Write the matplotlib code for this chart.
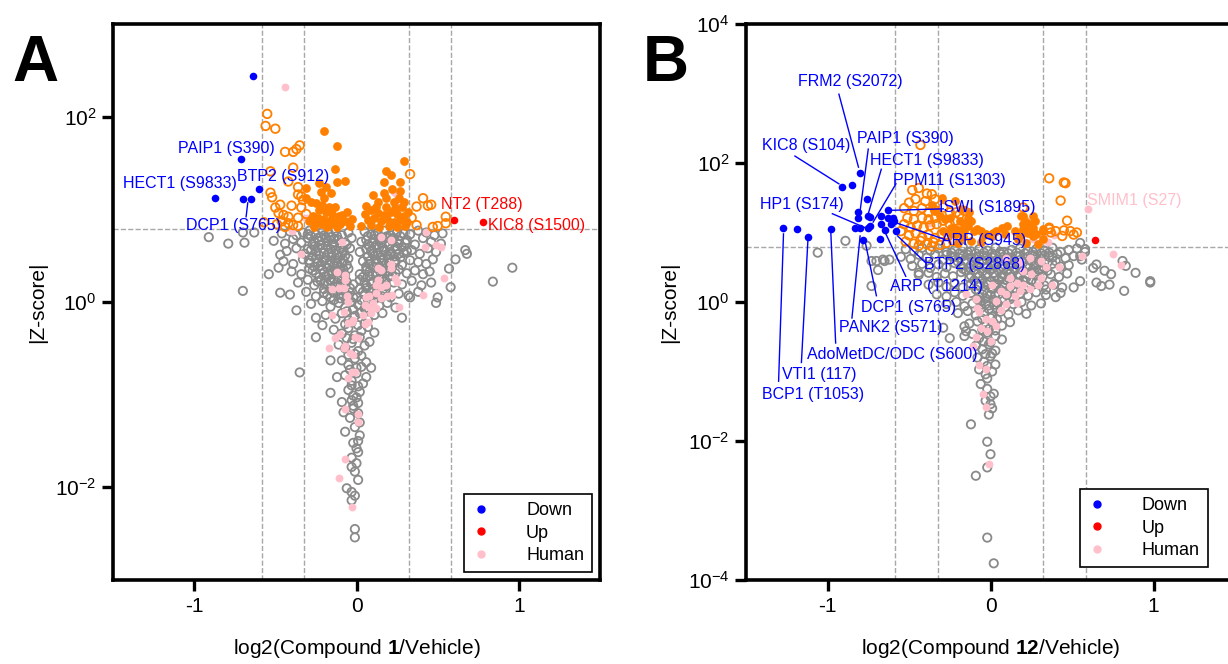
import numpy as np
import matplotlib
matplotlib.use('Agg')
import matplotlib.pyplot as plt
from matplotlib.lines import Line2D
from matplotlib.ticker import NullLocator

plt.rcParams['font.family'] = ['Liberation Sans', 'DejaVu Sans']
plt.rcParams['mathtext.fontset'] = 'custom'
plt.rcParams['mathtext.rm'] = 'Liberation Sans'
plt.rcParams['mathtext.bf'] = 'Liberation Sans:bold'
plt.rcParams['mathtext.it'] = 'Liberation Sans:italic'
plt.rcParams['axes.unicode_minus'] = False

# thresholds
z_cut = 6.2
fc_cuts = [0.322, 0.585]

# ---------------- Panel A (Compound 1) : (log2 FC, log10 |Z|) ----------------
a_gray = [
    (-0.91, 0.70), (-0.79, 0.63), (-0.69, 0.64), (-0.70, 0.75), (-0.63, 0.75), (-0.70, 0.12),
    (-0.54, 0.30), (-0.47, 0.51), (-0.47, 0.10), (-0.48, 0.37), (-0.37, -0.09), (-0.35, -0.76),
    (-0.25, -0.17), (-0.25, -0.38), (-0.21, -0.25), (-0.16, -0.63), (-0.16, -0.98), (-0.12, -0.81),
    (0.09, -0.71), (0.06, -0.81), (0.28, -0.17), (0.33, 0.05), (0.49, -0.01), (0.50, 0.05),
    (0.58, 0.16), (0.57, 0.36), (0.61, 0.46), (0.67, 0.56), (0.68, 0.52), (0.84, 0.22), (0.96, 0.37),
    (-0.09, -1.08), (-0.08, -1.19), (-0.07, -1.40), (-0.03, -1.06), (0.00, -1.03), (0.01, -1.09),
    (0.02, -1.44), (0.00, -1.58), (0.01, -1.62), (-0.03, -1.68), (0.00, -1.74), (-0.03, -1.78),
    (-0.01, -1.83), (0.01, -1.92), (-0.06, -2.01), (-0.03, -2.05), (-0.01, -2.09), (-0.03, -2.14),
    (-0.01, -2.45), (-0.01, -2.54), (-0.02, -1.52), (-0.04, -1.25), (0.02, -1.30), (-0.01, -1.35),
    (0.01, -1.50), (-0.02, -1.15),
    (-0.46, 0.74), (-0.41, 0.76), (-0.37, 0.72), (-0.33, 0.75), (-0.29, 0.77), (-0.25, 0.73),
    (-0.21, 0.76), (-0.17, 0.74), (-0.13, 0.77), (-0.09, 0.72), (-0.05, 0.75), (0.05, 0.76),
    (0.09, 0.73), (0.13, 0.75), (0.17, 0.77), (0.21, 0.72), (0.25, 0.76), (0.29, 0.74),
    (0.33, 0.73), (0.38, 0.77), (0.43, 0.75), (0.48, 0.72), (0.53, 0.74),
    (-0.51, 0.66), (-0.44, 0.63), (-0.39, 0.68), (-0.34, 0.64), (-0.30, 0.69), (-0.27, 0.62),
    (-0.23, 0.66), (-0.19, 0.70), (-0.15, 0.63), (-0.11, 0.67), (-0.07, 0.64), (-0.03, 0.69),
    (0.03, 0.65), (0.07, 0.62), (0.11, 0.68), (0.15, 0.64), (0.18, 0.70), (0.22, 0.66),
    (0.26, 0.63), (0.31, 0.67), (0.36, 0.62), (0.41, 0.69), (0.46, 0.65), (0.52, 0.63),
    (-0.43, 0.55), (-0.37, 0.58), (-0.32, 0.52), (-0.28, 0.56), (-0.24, 0.59), (-0.20, 0.53),
    (-0.16, 0.57), (-0.12, 0.51), (-0.08, 0.56), (-0.04, 0.58), (0.02, 0.54), (0.06, 0.57),
    (0.10, 0.52), (0.14, 0.59), (0.17, 0.55), (0.21, 0.51), (0.25, 0.57), (0.29, 0.53),
    (0.34, 0.56), (0.39, 0.52), (0.44, 0.58), (0.49, 0.54),
    (-0.45, 0.44), (-0.39, 0.41), (-0.33, 0.46), (-0.29, 0.42), (-0.25, 0.47), (-0.21, 0.43),
    (-0.17, 0.40), (-0.13, 0.45), (-0.09, 0.42), (-0.05, 0.47), (0.04, 0.44), (0.08, 0.41),
    (0.12, 0.46), (0.16, 0.42), (0.20, 0.47), (0.24, 0.43), (0.28, 0.40), (0.33, 0.45),
    (0.38, 0.43), (0.43, 0.41), (0.47, 0.46),
    (-0.40, 0.33), (-0.34, 0.30), (-0.29, 0.36), (-0.25, 0.31), (-0.21, 0.35), (-0.17, 0.29),
    (-0.13, 0.34), (-0.09, 0.31), (-0.05, 0.36), (0.02, 0.30), (0.06, 0.34), (0.10, 0.29),
    (0.14, 0.36), (0.18, 0.32), (0.22, 0.28), (0.26, 0.35), (0.31, 0.31), (0.36, 0.34),
    (0.41, 0.30), (0.45, 0.33),
    (-0.36, 0.21), (-0.30, 0.24), (-0.26, 0.18), (-0.22, 0.23), (-0.18, 0.19), (-0.14, 0.25),
    (-0.10, 0.17), (-0.06, 0.22), (-0.02, 0.19), (0.02, 0.24), (0.06, 0.18), (0.10, 0.22),
    (0.14, 0.25), (0.18, 0.17), (0.23, 0.21), (0.28, 0.19), (0.34, 0.23), (0.40, 0.18), (0.46, 0.21),
    (-0.41, 0.08), (-0.31, 0.11), (-0.25, 0.06), (-0.20, 0.10), (-0.16, 0.05), (-0.12, 0.12),
    (-0.08, 0.07), (-0.04, 0.10), (0.00, 0.05), (0.04, 0.11), (0.08, 0.06), (0.12, 0.09),
    (0.16, 0.12), (0.21, 0.05), (0.26, 0.09), (0.32, 0.07), (0.38, 0.11),
    (-0.28, -0.02), (-0.21, 0.01), (-0.16, -0.05), (-0.11, -0.01), (-0.07, -0.06), (-0.03, 0.00),
    (0.01, -0.03), (0.05, -0.07), (0.09, 0.00), (0.14, -0.04), (0.19, -0.01), (0.24, -0.06),
    (-0.19, -0.14), (-0.13, -0.18), (-0.09, -0.12), (-0.05, -0.20), (-0.01, -0.15), (0.03, -0.11),
    (0.07, -0.19), (0.11, -0.14), (0.16, -0.12),
    (-0.14, -0.30), (-0.09, -0.34), (-0.05, -0.28), (-0.01, -0.36), (0.03, -0.31), (0.07, -0.27),
    (0.11, -0.33),
    (-0.11, -0.46), (-0.07, -0.50), (-0.03, -0.44), (0.01, -0.53), (0.05, -0.47), (0.08, -0.43),
    (-0.09, -0.63), (-0.05, -0.68), (-0.01, -0.61), (0.03, -0.70), (0.06, -0.65),
    (-0.07, -0.79), (-0.03, -0.85), (0.00, -0.77), (0.04, -0.88),
    (-0.05, -0.95), (-0.02, -1.01), (0.02, -0.97),
    # dense cores
    (-0.28, 0.71), (-0.24, 0.69), (-0.20, 0.72), (-0.16, 0.70), (-0.12, 0.71), (-0.26, 0.60),
    (-0.22, 0.62), (-0.18, 0.60), (-0.14, 0.61), (-0.10, 0.59), (-0.06, 0.62), (-0.27, 0.49),
    (-0.23, 0.50), (-0.19, 0.48), (-0.15, 0.50), (-0.11, 0.48), (-0.07, 0.50), (-0.26, 0.38),
    (-0.22, 0.39), (-0.18, 0.37), (-0.14, 0.39), (-0.10, 0.37), (-0.06, 0.40), (-0.23, 0.27),
    (-0.19, 0.28), (-0.15, 0.30), (-0.11, 0.27), (-0.07, 0.29), (-0.20, 0.14), (-0.16, 0.15),
    (-0.12, 0.16), (-0.08, 0.13), (-0.04, 0.15), (-0.14, 0.02), (-0.10, 0.04), (-0.06, 0.03),
    (-0.02, 0.05),
    (0.07, 0.71), (0.11, 0.72), (0.15, 0.70), (0.19, 0.71), (0.23, 0.69), (0.27, 0.71),
    (0.08, 0.60), (0.12, 0.61), (0.16, 0.59), (0.20, 0.61), (0.24, 0.60), (0.28, 0.59),
    (0.07, 0.49), (0.11, 0.50), (0.15, 0.48), (0.19, 0.50), (0.23, 0.49), (0.27, 0.48),
    (0.06, 0.38), (0.10, 0.39), (0.14, 0.38), (0.18, 0.40), (0.22, 0.38), (0.04, 0.27),
    (0.08, 0.28), (0.12, 0.29), (0.16, 0.27), (0.20, 0.28), (0.02, 0.14), (0.06, 0.15),
    (0.10, 0.14), (0.14, 0.16), (0.18, 0.14), (0.03, 0.02), (0.07, 0.03), (0.11, 0.04),
    (-0.06, -0.10), (-0.02, -0.08), (0.02, -0.12), (0.06, -0.09), (-0.07, -0.24), (-0.03, -0.22),
    (0.01, -0.25), (0.05, -0.23), (-0.06, -0.39), (-0.02, -0.40), (0.02, -0.38), (-0.05, -0.57),
    (-0.01, -0.56), (0.03, -0.58), (-0.04, -0.73), (0.00, -0.71), (-0.03, -0.90), (0.01, -0.91),
    (-0.02, -1.12), (0.01, -1.20),
    (-0.30, 0.73), (-0.26, 0.65), (-0.22, 0.70), (-0.18, 0.66), (-0.14, 0.68), (-0.10, 0.64),
    (-0.30, 0.57), (-0.25, 0.54), (-0.21, 0.58), (-0.17, 0.53), (-0.13, 0.56), (-0.09, 0.53),
    (-0.29, 0.45), (-0.24, 0.43), (-0.20, 0.45), (-0.16, 0.44), (-0.12, 0.42), (-0.08, 0.45),
    (-0.27, 0.34), (-0.20, 0.32), (-0.16, 0.34), (-0.12, 0.33), (-0.08, 0.35), (-0.24, 0.22),
    (-0.20, 0.20), (-0.16, 0.23), (-0.12, 0.21), (-0.08, 0.20), (-0.18, 0.08), (-0.14, 0.10),
    (-0.10, 0.09), (-0.06, 0.08),
    (0.06, 0.67), (0.10, 0.65), (0.14, 0.67), (0.18, 0.64), (0.22, 0.68), (0.26, 0.66),
    (0.30, 0.64), (0.09, 0.55), (0.13, 0.53), (0.17, 0.56), (0.21, 0.54), (0.26, 0.52),
    (0.31, 0.55), (0.08, 0.44), (0.12, 0.42), (0.16, 0.45), (0.20, 0.42), (0.24, 0.45),
    (0.08, 0.33), (0.12, 0.32), (0.16, 0.34), (0.20, 0.33), (0.24, 0.31), (0.05, 0.21),
    (0.09, 0.20), (0.13, 0.21), (0.17, 0.22), (0.05, 0.08), (0.09, 0.10), (0.13, 0.08),
]
a_orange_open = [
    (-0.55, 2.03), (-0.56, 1.90), (-0.50, 1.87), (-0.44, 1.62), (-0.39, 1.62), (-0.37, 1.65),
    (-0.35, 1.69), (-0.39, 1.45), (-0.53, 1.41), (-0.42, 1.30), (-0.36, 1.24), (-0.53, 1.18),
    (-0.52, 1.13), (-0.36, 1.16), (-0.34, 1.14), (-0.40, 1.04), (-0.50, 1.02), (-0.47, 1.05),
    (-0.48, 0.96), (-0.45, 0.94), (-0.42, 0.92), (-0.36, 0.91), (-0.46, 0.87), (-0.42, 0.85),
    (-0.39, 0.83), (-0.36, 0.82), (-0.34, 1.02), (-0.33, 1.10), (0.33, 1.38), (0.41, 1.12),
    (0.44, 1.04), (0.46, 1.05), (0.34, 0.91), (0.37, 0.83), (0.37, 1.03), (0.55, 0.92),
    (0.55, 0.85), (0.50, 0.82), (0.47, 0.81), (-0.57, 0.86), (-0.49, 0.84), (-0.44, 0.81),
    (-0.31, 0.95),
]
a_orange_fill = [
    (-0.20, 1.85), (-0.12, 1.68), (-0.13, 1.44), (-0.12, 1.30), (-0.07, 1.31), (0.29, 1.52),
    (0.18, 1.41), (0.21, 1.37), (0.27, 1.30), (0.17, 1.29), (-0.31, 1.23), (-0.23, 1.28),
    (-0.19, 1.24), (-0.22, 1.19), (-0.16, 1.18), (-0.20, 1.12), (-0.31, 1.12), (-0.28, 1.08),
    (0.10, 1.15), (0.17, 1.18), (0.18, 1.12), (0.23, 1.08), (0.26, 1.12), (0.29, 1.08),
    (0.06, 1.04), (0.12, 1.03), (0.18, 1.02), (0.28, 1.03),
    (-0.25, 1.07), (-0.21, 1.05), (-0.17, 1.03), (-0.13, 1.02), (-0.23, 0.99), (-0.19, 0.97),
    (-0.15, 0.95), (-0.11, 0.93), (-0.27, 0.93), (-0.24, 0.91), (-0.20, 0.90), (-0.16, 0.89),
    (-0.09, 0.94), (-0.06, 0.97), (-0.29, 0.87), (-0.25, 0.85), (-0.21, 0.84), (-0.17, 0.83),
    (-0.13, 0.86), (-0.10, 0.84), (-0.07, 0.87), (-0.03, 0.90), (-0.26, 0.81), (-0.18, 0.81),
    (-0.12, 0.81), (-0.04, 0.82),
    (0.05, 0.95), (0.09, 0.99), (0.13, 0.96), (0.17, 0.94), (0.21, 0.97), (0.25, 0.95),
    (0.29, 0.93), (0.32, 0.97), (0.07, 0.88), (0.11, 0.91), (0.15, 0.87), (0.19, 0.90),
    (0.23, 0.86), (0.27, 0.89), (0.31, 0.86), (0.03, 0.82), (0.09, 0.83), (0.14, 0.81),
    (0.20, 0.82), (0.25, 0.81), (0.30, 0.82), (0.13, 1.08), (0.24, 1.01), (0.22, 1.22), (0.27, 1.20),
]
a_human = [
    (-0.44, 2.32), (-0.34, 0.52), (-0.40, 0.77), (-0.09, 0.65), (-0.12, 0.32), (-0.07, 0.29),
    (-0.07, 0.24), (-0.15, 0.14), (-0.11, 0.15), (-0.08, 0.15), (-0.06, 0.06), (-0.05, 0.00),
    (-0.08, -0.11), (-0.15, -0.14), (-0.02, -0.19), (-0.05, -0.23), (-0.03, -0.22), (-0.10, -0.34),
    (-0.01, -0.38), (0.01, -0.39), (-0.13, -0.39), (-0.17, -0.50), (-0.07, -0.47), (-0.04, -0.55),
    (-0.02, -0.57), (-0.08, -0.50), (-0.03, -0.75), (-0.01, -0.75), (-0.05, -0.82), (0.05, -0.24),
    (0.07, -0.22), (0.04, -0.14), (0.09, -0.12), (0.05, -0.03), (0.08, -0.05), (0.10, -0.01),
    (0.08, 0.07), (0.12, 0.10), (0.06, 0.05), (0.15, 0.04), (0.19, 0.06), (0.12, 0.18),
    (0.15, 0.16), (0.18, 0.18), (0.13, 0.24), (0.22, 0.08), (0.24, 0.26), (0.25, 0.22),
    (0.21, 0.37), (0.13, 0.37), (0.15, 0.35), (0.21, 0.67), (0.15, 0.70), (0.21, 0.41),
    (0.12, -0.06), (0.26, -0.05), (0.42, 0.59), (0.49, 0.61), (0.52, 0.59), (0.54, 0.26),
    (0.41, 0.08), (0.43, 0.76), (0.23, 1.19), (0.25, 1.16), (0.26, 1.03), (-0.31, 0.91),
    (-0.07, -1.16), (0.01, -1.21), (0.01, -1.30), (-0.07, -1.69), (-0.11, -1.90), (-0.03, -2.21),
]
a_down = [(-0.64, 2.44), (-0.71, 1.54), (-0.87, 1.12), (-0.70, 1.11), (-0.65, 1.11), (-0.60, 1.22)]
a_up = [(0.60, 0.89), (0.78, 0.86)]
# label text, x, log10 |Z|, colour
a_labels = [
    ('PAIP1 (S390)', -0.80, 1.66, 'blue'),
    ('HECT1 (S9833)', -1.09, 1.28, 'blue'),
    ('BTP2 (S912)', -0.45, 1.35, 'blue'),
    ('DCP1 (S765)', -0.76, 0.83, 'blue'),
    ('NT2 (T288)', 0.77, 1.05, 'red'),
    ('KIC8 (S1500)', 1.11, 0.83, 'red'),
]
a_leaders = [((-0.67, 1.07), (-0.68, 0.92))]

# ---------------- Panel B (Compound 12) ----------------
b_gray = [
    (-0.89, 0.88), (-1.06, 0.71), (-0.76, 0.81), (-0.73, 0.59), (-0.70, 0.59), (-0.65, 0.59),
    (-0.69, 0.46), (-0.73, 0.23), (-0.66, 0.61), (-0.62, 0.61), (-0.44, 0.42), (-0.29, -0.37),
    (-0.16, -0.35), (-0.15, -0.42), (-0.16, -0.49), (-0.25, -0.52),
    (0.55, 0.85), (0.58, 0.76), (0.65, 0.54), (0.63, 0.49), (0.70, 0.45), (0.74, 0.40),
    (0.81, 0.59), (0.83, 0.52), (0.89, 0.42), (0.98, 0.30), (0.98, 0.28), (0.82, 0.16),
    (0.73, 0.25), (0.68, 0.23), (0.65, 0.28), (0.55, 0.30), (0.51, 0.21), (0.43, 0.13),
    (0.39, 0.25), (0.34, 0.18), (0.55, 0.66), (0.58, 0.72),
    (-0.12, -1.76), (-0.02, -2.01), (0.00, -2.19), (-0.02, -2.38), (-0.09, -2.50), (-0.02, -3.39),
    (0.02, -3.76), (0.00, -1.47), (-0.01, -1.62),
    (-0.52, 0.76), (-0.47, 0.73), (-0.42, 0.78), (-0.37, 0.74), (-0.32, 0.77), (-0.27, 0.72),
    (-0.22, 0.75), (-0.17, 0.79), (-0.12, 0.73), (-0.07, 0.76), (-0.02, 0.74), (0.03, 0.78),
    (0.08, 0.72), (0.13, 0.75), (0.18, 0.77), (0.23, 0.73), (0.28, 0.76), (0.33, 0.74),
    (0.38, 0.78), (0.43, 0.72), (0.48, 0.75), (0.53, 0.77),
    (-0.55, 0.65), (-0.49, 0.62), (-0.44, 0.68), (-0.39, 0.64), (-0.34, 0.69), (-0.29, 0.61),
    (-0.24, 0.66), (-0.19, 0.63), (-0.14, 0.68), (-0.09, 0.62), (-0.04, 0.67), (0.01, 0.64),
    (0.06, 0.69), (0.11, 0.61), (0.16, 0.66), (0.21, 0.63), (0.26, 0.68), (0.31, 0.62),
    (0.36, 0.65), (0.41, 0.69), (0.46, 0.63), (0.51, 0.66), (0.56, 0.61),
    (-0.48, 0.52), (-0.42, 0.55), (-0.37, 0.49), (-0.32, 0.54), (-0.27, 0.50), (-0.22, 0.56),
    (-0.17, 0.48), (-0.12, 0.53), (-0.07, 0.57), (-0.02, 0.51), (0.03, 0.54), (0.08, 0.48),
    (0.13, 0.56), (0.18, 0.50), (0.23, 0.53), (0.28, 0.57), (0.33, 0.49), (0.38, 0.55),
    (0.43, 0.51), (0.48, 0.53),
    (-0.44, 0.39), (-0.38, 0.42), (-0.33, 0.36), (-0.28, 0.41), (-0.23, 0.37), (-0.18, 0.43),
    (-0.13, 0.35), (-0.08, 0.40), (-0.03, 0.38), (0.02, 0.42), (0.07, 0.36), (0.12, 0.41),
    (0.17, 0.39), (0.22, 0.35), (0.27, 0.43), (0.32, 0.37), (0.37, 0.40), (0.42, 0.36), (0.47, 0.41),
    (-0.38, 0.25), (-0.32, 0.28), (-0.27, 0.22), (-0.22, 0.27), (-0.17, 0.21), (-0.12, 0.26),
    (-0.07, 0.23), (-0.02, 0.29), (0.03, 0.24), (0.08, 0.21), (0.13, 0.27), (0.18, 0.25),
    (0.23, 0.22), (0.28, 0.28), (0.33, 0.24), (0.39, 0.26), (0.44, 0.21),
    (-0.33, 0.11), (-0.27, 0.08), (-0.22, 0.14), (-0.17, 0.09), (-0.12, 0.13), (-0.07, 0.07),
    (-0.02, 0.12), (0.03, 0.10), (0.08, 0.15), (0.13, 0.08), (0.18, 0.12), (0.23, 0.09),
    (0.28, 0.14), (0.34, 0.10), (0.40, 0.07),
    (-0.27, -0.03), (-0.21, 0.00), (-0.16, -0.06), (-0.11, -0.02), (-0.06, 0.01), (-0.01, -0.05),
    (0.04, -0.01), (0.09, -0.07), (0.14, -0.03), (0.19, 0.00), (0.25, -0.05), (0.31, -0.02),
    (-0.20, -0.16), (-0.14, -0.13), (-0.09, -0.19), (-0.04, -0.15), (0.01, -0.21), (0.06, -0.14),
    (0.11, -0.18), (0.17, -0.12), (0.22, -0.17),
    (-0.13, -0.31), (-0.08, -0.28), (-0.03, -0.35), (0.02, -0.30), (0.07, -0.34), (0.12, -0.29),
    (-0.11, -0.46), (-0.07, -0.52), (-0.02, -0.44), (0.03, -0.49), (0.07, -0.54),
    (-0.09, -0.63), (-0.05, -0.68), (-0.01, -0.61), (0.03, -0.70),
    (-0.08, -0.80), (-0.04, -0.86), (0.00, -0.78), (0.03, -0.90),
    (-0.07, -0.97), (-0.03, -1.04), (0.01, -1.00),
    (-0.06, -1.18), (-0.02, -1.25), (0.02, -1.32),
    (-0.03, -1.42), (0.01, -1.53),
    # dense core
    (-0.24, 0.71), (-0.19, 0.70), (-0.14, 0.72), (-0.09, 0.70), (-0.04, 0.71), (0.01, 0.70),
    (0.06, 0.72), (0.11, 0.70), (0.16, 0.71), (0.21, 0.70), (0.26, 0.72), (0.31, 0.70),
    (0.36, 0.71),
    (-0.20, 0.58), (-0.15, 0.59), (-0.10, 0.57), (-0.05, 0.59), (0.00, 0.58), (0.05, 0.57),
    (0.10, 0.59), (0.15, 0.58), (0.20, 0.57), (0.25, 0.59), (0.30, 0.58), (0.35, 0.57), (0.40, 0.59),
    (-0.15, 0.45), (-0.10, 0.46), (-0.05, 0.44), (0.00, 0.46), (0.05, 0.45), (0.10, 0.44),
    (0.15, 0.46), (0.20, 0.45), (0.25, 0.44), (0.30, 0.46), (0.35, 0.45),
    (-0.10, 0.31), (-0.05, 0.32), (0.00, 0.30), (0.05, 0.32), (0.10, 0.31), (0.15, 0.30),
    (0.20, 0.32), (0.25, 0.31), (0.30, 0.30),
    (-0.09, 0.18), (-0.04, 0.17), (0.01, 0.19), (0.06, 0.18), (0.11, 0.17), (0.16, 0.19), (0.21, 0.18),
    (-0.08, 0.04), (-0.03, 0.05), (0.02, 0.03), (0.07, 0.05), (0.12, 0.04),
    (-0.06, -0.09), (-0.01, -0.10), (0.04, -0.09), (-0.05, -0.24), (0.00, -0.23), (0.04, -0.25),
    (-0.05, -0.40), (-0.01, -0.39), (0.03, -0.41), (-0.04, -0.57), (0.00, -0.58), (-0.03, -0.75),
    (0.01, -0.74), (-0.02, -0.92), (-0.02, -1.10), (0.00, -1.36),
    (-0.27, 0.68), (-0.22, 0.65), (-0.17, 0.66), (-0.12, 0.64), (-0.07, 0.66), (-0.02, 0.65),
    (0.03, 0.67), (0.08, 0.65), (0.13, 0.64), (0.18, 0.66), (0.23, 0.65), (0.28, 0.64),
    (0.33, 0.67), (0.38, 0.64), (-0.18, 0.52), (-0.13, 0.50), (-0.08, 0.52), (-0.03, 0.50),
    (0.02, 0.52), (0.07, 0.51), (0.12, 0.52), (0.17, 0.53), (0.22, 0.50), (0.27, 0.52),
    (0.32, 0.51), (-0.12, 0.38), (-0.07, 0.37), (-0.02, 0.40), (0.03, 0.38), (0.08, 0.39),
    (0.13, 0.37), (0.18, 0.38), (0.23, 0.39), (0.28, 0.38), (-0.07, 0.24), (-0.02, 0.25),
    (0.03, 0.26), (0.08, 0.25), (0.13, 0.24), (0.18, 0.23), (-0.05, 0.11), (0.00, 0.10),
    (0.05, 0.11), (0.10, 0.10), (-0.03, -0.03), (0.02, -0.04),
]
b_orange_open = [
    (-0.43, 2.26), (0.36, 1.78), (0.45, 1.72), (0.43, 1.46), (0.47, 1.17), (0.53, 1.00),
    (0.49, 1.02), (0.45, 1.03), (0.40, 1.02), (0.37, 1.00), (0.36, 1.05), (0.20, 1.36),
    (0.46, 1.71), (0.36, 1.07), (0.51, 0.97), (0.44, 0.95),
    (-0.48, 1.61), (-0.44, 1.64), (-0.39, 1.56), (-0.36, 1.55), (-0.46, 1.48), (-0.40, 1.45),
    (-0.34, 1.48), (-0.50, 1.43), (-0.53, 1.35), (-0.47, 1.31), (-0.42, 1.35), (-0.38, 1.29),
    (-0.34, 1.32), (-0.29, 1.36), (-0.51, 1.21), (-0.47, 1.19), (-0.42, 1.21), (-0.38, 1.19),
    (-0.34, 1.21), (-0.53, 1.12), (-0.49, 1.07), (-0.45, 1.10), (-0.41, 1.07), (-0.37, 1.10),
    (-0.33, 1.12), (-0.29, 1.17), (-0.25, 1.12), (-0.22, 1.17), (-0.19, 1.26), (-0.16, 1.31),
    (-0.21, 1.29), (-0.25, 1.29), (-0.55, 1.02), (-0.50, 0.96), (-0.46, 0.99), (-0.42, 0.93),
    (-0.38, 0.97), (-0.34, 0.92), (-0.30, 0.98), (-0.26, 0.95), (-0.52, 0.87), (-0.47, 0.84),
    (-0.43, 0.88), (-0.39, 0.83), (-0.35, 0.86), (-0.31, 0.82), (-0.27, 0.85), (-0.23, 0.88),
    (-0.44, 0.81), (-0.36, 0.80),
]
b_orange_fill = [
    (-0.36, 1.40), (-0.34, 1.31), (-0.31, 1.24), (-0.28, 1.19), (-0.25, 1.21), (-0.24, 1.07),
    (-0.21, 1.05), (-0.17, 1.05), (-0.14, 1.10), (-0.13, 1.17), (-0.10, 1.02), (-0.06, 1.02),
    (-0.03, 0.98), (0.015, 1.00), (0.07, 1.07), (0.10, 1.10), (0.20, 1.24), (0.22, 1.15),
    (0.25, 1.12), (0.26, 1.07), (0.20, 1.05), (0.23, 1.00), (0.28, 0.98), (0.32, 1.02),
    (0.15, 1.02), (0.09, 0.98), (0.035, 1.02), (-0.19, 1.17), (-0.14, 1.21), (-0.16, 1.02),
    (-0.29, 1.02), (-0.25, 1.00), (-0.21, 0.98), (-0.17, 0.93),
    (0.185, 1.24), (0.26, 1.24), (0.27, 1.17), (0.20, 1.12), (0.24, 1.07), (0.32, 1.05),
    (0.185, 0.97), (0.26, 0.95), (0.32, 0.90), (-0.30, 1.50), (-0.22, 1.46), (-0.18, 1.34),
    (-0.13, 1.29), (-0.12, 1.17), (-0.16, 1.12), (-0.08, 1.05), (-0.04, 0.97), (0.01, 0.95),
    (-0.12, 0.88), (-0.06, 0.86), (0.22, 0.85), (0.29, 0.83), (0.17, 0.90), (-0.20, 0.85),
]
b_human = [
    (-0.37, 1.14), (-0.24, 1.07), (0.21, 1.19), (0.26, 0.90), (0.39, 0.97), (0.32, 0.93),
    (0.35, 0.87), (0.60, 1.34),
    (0.24, 0.64), (0.31, 0.59), (0.34, 0.50), (0.20, 0.45), (0.25, 0.40), (0.31, 0.35),
    (0.38, 0.25), (0.42, 0.50), (0.16, 0.28), (0.20, 0.25), (0.12, 0.23), (0.065, 0.16),
    (0.096, 0.11), (0.15, 0.09), (0.18, 0.16), (0.24, 0.18), (0.29, 0.25), (0.035, 0.01),
    (0.096, -0.03), (0.16, -0.01), (0.065, -0.11), (-0.09, 0.04), (-0.08, -0.08), (-0.07, -0.15),
    (-0.03, -0.25), (0.01, -0.27), (0.035, -0.35), (-0.06, -0.37), (-0.02, -0.42), (-0.09, -0.51),
    (0.004, -0.56), (-0.11, -0.63), (-0.07, -0.90), (-0.03, -0.97), (-0.047, -1.33), (-0.03, -1.51),
    (0.12, 0.35), (0.01, 0.25), (-0.15, 0.11), (0.096, 0.64), (0.18, 0.57), (0.75, 0.69),
    (0.80, 0.53), (0.56, 0.66), (-0.01, -2.33),
]
b_down = [
    (-0.80, 1.86), (-0.91, 1.66), (-0.85, 1.69), (-0.76, 1.48), (-0.81, 1.30), (-0.81, 1.21),
    (-0.75, 1.24), (-0.74, 1.23), (-0.63, 1.32), (-0.67, 1.24), (-0.63, 1.21), (-0.60, 1.21),
    (-0.59, 1.17), (-0.61, 1.12), (-0.58, 1.02), (-0.67, 1.12), (-0.65, 1.04), (-0.75, 1.07),
    (-0.74, 1.10), (-0.80, 1.06), (-0.83, 1.06), (-1.27, 1.06), (-1.19, 1.05), (-1.12, 0.94),
    (-0.98, 1.05), (-0.78, 0.89), (-0.68, 0.90),
]
b_up = [(0.64, 0.89)]
b_labels = [
    ('FRM2 (S2072)', -0.86, 3.17, 'blue'),
    ('KIC8 (S104)', -1.13, 2.25, 'blue'),
    ('PAIP1 (S390)', -0.52, 2.35, 'blue'),
    ('HECT1 (S9833)', -0.39, 2.04, 'blue'),
    ('PPM11 (S1303)', -0.25, 1.75, 'blue'),
    ('ISWI (S1895)', -0.02, 1.36, 'blue'),
    ('HP1 (S174)', -1.16, 1.40, 'blue'),
    ('ARP (S945)', -0.04, 0.88, 'blue'),
    ('BTP2 (S2868)', -0.10, 0.54, 'blue'),
    ('ARP (T1214)', -0.33, 0.22, 'blue'),
    ('DCP1 (S765)', -0.50, -0.08, 'blue'),
    ('PANK2 (S571)', -0.61, -0.36, 'blue'),
    ('AdoMetDC/ODC (S600)', -0.60, -0.76, 'blue'),
    ('VTI1 (117)', -1.05, -1.05, 'blue'),
    ('BCP1 (T1053)', -1.09, -1.33, 'blue'),
    ('SMIM1 (S27)', 0.88, 1.46, 'pink'),
]
b_leaders = [
    ((-0.93, 2.99), (-0.81, 1.94)),
    ((-1.20, 2.10), (-0.93, 1.70)),
    ((-0.75, 2.20), (-0.80, 1.31)),
    ((-0.67, 1.91), (-0.75, 1.27)),
    ((-0.58, 1.70), (-0.72, 1.15)),
    ((-0.29, 1.34), (-0.60, 1.32)),
    ((-0.97, 1.27), (-0.77, 1.07)),
    ((-0.28, 0.90), (-0.58, 1.14)),
    ((-0.40, 0.57), (-0.57, 0.95)),
    ((-0.52, 0.37), (-0.65, 1.02)),
    ((-0.70, 0.09), (-0.77, 0.88)),
    ((-0.85, -0.23), (-0.80, 0.95)),
    ((-0.95, -0.59), (-0.98, 1.02)),
    ((-1.16, -0.87), (-1.12, 0.90)),
    ((-1.30, -1.14), (-1.27, 0.98)),
]

GRAY = '#8a8a8a'
ORANGE = '#ff8000'
PINK = '#ffc0cb'


def xz(points):
    arr = np.array(points, dtype=float)
    return arr[:, 0], 10 ** arr[:, 1]


def draw_panel(ax, gray, o_open, o_fill, human, down, up, labels, leaders, yticks, ylim, comp):
    ax.set_yscale('log')
    ax.set_xlim(-1.5, 1.5)
    ax.set_ylim(*ylim)

    for c in fc_cuts:
        ax.axvline(c, color='#a8a8a8', ls='--', lw=1.0, zorder=0)
        ax.axvline(-c, color='#a8a8a8', ls='--', lw=1.0, zorder=0)
    ax.axhline(z_cut, color='#a8a8a8', ls='--', lw=1.0, zorder=0)

    x, z = xz(gray)
    ax.scatter(x, z, s=36, facecolors='none', edgecolors=GRAY, linewidths=1.3, zorder=2)
    x, z = xz(human)
    ax.scatter(x, z, s=32, color=PINK, linewidths=0, zorder=3)
    x, z = xz(o_open)
    ax.scatter(x, z, s=38, facecolors='none', edgecolors=ORANGE, linewidths=1.3, zorder=3)
    x, z = xz(o_fill)
    ax.scatter(x, z, s=40, color=ORANGE, linewidths=0, zorder=3)
    x, z = xz(down)
    ax.scatter(x, z, s=30, color='blue', linewidths=0, zorder=5)
    x, z = xz(up)
    ax.scatter(x, z, s=30, color='red', linewidths=0, zorder=5)

    for (x0, l0), (x1, l1) in leaders:
        ax.plot([x0, x1], [10 ** l0, 10 ** l1], color='blue', lw=1.0, zorder=4)
    for txt, tx, tl, col in labels:
        ax.text(tx, 10 ** tl, txt, color=col, fontsize=11.5, ha='center', va='center', zorder=6)

    ax.set_xticks([-1, 0, 1])
    ax.set_yticks(yticks)
    ax.yaxis.set_minor_locator(NullLocator())
    ax.tick_params(axis='both', which='major', direction='out', length=8, width=2.4,
                   labelsize=15, pad=4)
    for sp in ax.spines.values():
        sp.set_linewidth(2.6)

    ax.set_xlabel(r'log2(Compound $\mathbf{' + comp + r'}$/Vehicle)', fontsize=15, labelpad=15)
    ax.set_ylabel('|Z-score|', fontsize=15, labelpad=6)


def main():
    fig = plt.figure(figsize=(12.28, 6.64), dpi=100)
    axA = fig.add_axes([113 / 1228, 84 / 664, 487 / 1228, 556 / 664])
    axB = fig.add_axes([746 / 1228, 84 / 664, 489 / 1228, 556 / 664])

    draw_panel(axA, a_gray, a_orange_open, a_orange_fill, a_human, a_down, a_up,
               a_labels, a_leaders, [1e-2, 1, 1e2], (1e-3, 1e3), '1')
    draw_panel(axB, b_gray, b_orange_open, b_orange_fill, b_human, b_down, b_up,
               b_labels, b_leaders, [1e-4, 1e-2, 1, 1e2, 1e4], (1e-4, 1e4), '12')

    handles = [Line2D([], [], marker='o', ls='none', color=c, markersize=5)
               for c in ['blue', 'red', PINK]]
    for ax, anchor in [(axA, (0.984, 0.014)), (axB, (0.945, 0.023))]:
        leg = ax.legend(handles, ['Down', 'Up', 'Human'], loc='lower right',
                        bbox_to_anchor=anchor, borderaxespad=0, fontsize=13,
                        handlelength=1.0, handletextpad=2.0, labelspacing=0.3,
                        fancybox=False, framealpha=1, edgecolor='black', borderpad=0.45)
        leg.get_frame().set_linewidth(1.2)

    fig.text(35 / 1228, 1 - 64 / 664, 'A', fontsize=46, fontweight='bold', ha='center', va='center')
    fig.text(666 / 1228, 1 - 64 / 664, 'B', fontsize=46, fontweight='bold', ha='center', va='center')

    fig.savefig('out.png', dpi=100)


if __name__ == '__main__':
    main()
